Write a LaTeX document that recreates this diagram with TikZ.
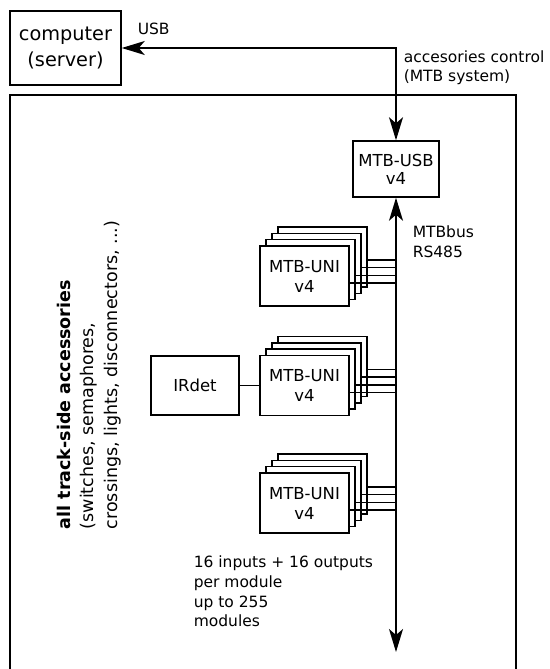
\documentclass[tikz,border=0pt]{standalone}
\usepackage{fontspec}
\setmainfont{DejaVu Sans}
\usetikzlibrary{arrows.meta}
\begin{document}
\begin{tikzpicture}[x=1pt,y=-1pt, line width=1.5pt,
  box/.style={draw, fill=white, inner sep=0pt, align=center},
  unibox/.style={box, minimum width=89pt, minimum height=60pt, font=\fontsize{16.5}{20}\selectfont},
  lbl/.style={inner sep=0pt, anchor=west, align=left, font=\fontsize{15.5}{19.5}\selectfont},
  tipend/.tip={Stealth[length=23pt,width=14pt,inset=6pt]}
]
\useasboundingbox (0,0) rectangle (549,669);
\begin{scope}
  \clip (0,0) rectangle (549,669);
  \draw (10,690) |- (516,95) -- (516,690);
\end{scope}

% computer
\node[box, minimum width=111pt, minimum height=74pt, font=\fontsize{19.3}{26.5}\selectfont] (comp) at (65.5,48) {computer\\(server)};

% MTB-USB
\node[box, minimum width=86pt, minimum height=56pt, font=\fontsize{16.5}{18}\selectfont] (usb) at (396,169) {MTB-USB\\v4};

% USB connection
\draw[tipend-tipend] (usb.north) |- (comp.east);
\node[lbl] (usblbl) at (137,29) {USB};
\node[lbl] (acclbl) at (403,67.5) {accesories control\\(MTB system)};

% bus
\coordinate (bus) at (396,0);
\coordinate (busend) at (396,652);
\draw[tipend-tipend] (usb.south) -- (busend);
\node[lbl, font=\fontsize{15.5}{20}\selectfont] (buslbl) at (412,242) {MTBbus\\RS485};

% module stacks
\foreach \k/\cy in {1/276, 2/385.5, 3/503} {
  \foreach \i in {3,2,1,0} {
    \node[unibox] (s\k b\i) at ({304.5+6*\i},{\cy-6.3*\i}) {};
  }
  \node[font=\fontsize{16.5}{20}\selectfont, align=center, inner sep=0pt] (t\k) at (s\k b0) {MTB-UNI\\v4};
  \foreach \i in {0,1,2,3} {
    \coordinate (c\k\i) at ([yshift={-(7-1.4*\i)*1pt}]s\k b\i.east);
    \draw (c\k\i) -- (c\k\i -| bus);
  }
}

% IRdet
\node[box, minimum width=88pt, minimum height=59pt, font=\fontsize{16.5}{20}\selectfont] (ir) at (195,385.5) {IRdet};
\draw (ir) -- (s2b0);

% info
\node[lbl, font=\fontsize{15.5}{19.7}\selectfont] (info) at (193,591.5) {16 inputs + 16 outputs\\per module\\up to 255\\modules};

% rotated description
\node[rotate=90, anchor=north west, inner sep=0pt, align=left, font=\fontsize{17.5}{23.5}\selectfont] (desc) at (56,530) {\textbf{all track-side accessories}\\(switches, semaphores,\\crossings, lights, disconnectors, ...)};
\end{tikzpicture}
\end{document}
